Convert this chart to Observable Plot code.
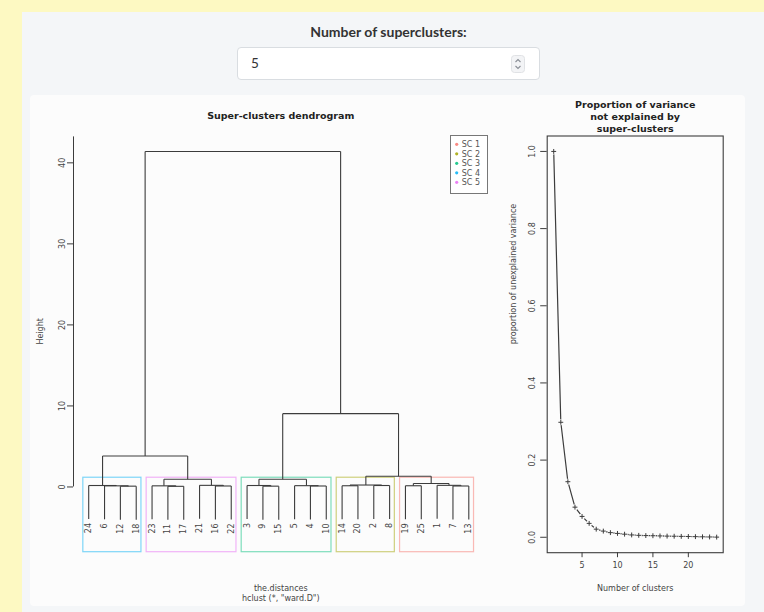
<!DOCTYPE html>
<html><head><meta charset="utf-8">
<script src="https://cdn.jsdelivr.net/npm/d3@7"></script>
<script src="https://cdn.jsdelivr.net/npm/@observablehq/plot@0.6"></script>
<style>
html,body{margin:0;padding:0;}
body{width:764px;height:612px;overflow:hidden;background:#fdf9c2;position:relative;font-family:"DejaVu Sans",sans-serif;}
#panel{position:absolute;left:22px;top:12px;width:742px;height:600px;background:#f4f6f8;}
#ctltitle{position:absolute;left:237px;top:23px;width:303px;text-align:center;font:bold 14px Lato,sans-serif;color:#333;line-height:18px;}
#input{position:absolute;left:237px;top:47px;width:301px;height:31px;background:#fff;border:1px solid #d9dde1;border-radius:4px;}
#input .val{position:absolute;left:13px;top:7px;font:13.5px Lato,sans-serif;color:#333;}
#input svg{position:absolute;left:272px;top:7px;}
#plotarea{position:absolute;left:30px;top:95px;width:715px;height:511px;background:#fcfcfc;border-radius:4px;}
#dendro{position:absolute;left:0;top:0;}
#scree{position:absolute;left:470px;top:0;}
#legend{position:absolute;left:420px;top:40px;width:38px;height:59px;}
</style>
</head><body>
<div id="panel"></div>
<div id="ctltitle">Number of superclusters:</div>
<div id="input"><span class="val">5</span>
<svg width="16" height="18" viewBox="0 0 16 18"><rect x="1.5" y="0.5" width="13" height="17" rx="3" fill="#f3f4f6" stroke="#e0e2e5"/><path d="M5.5 7 L8 4.5 L10.5 7" fill="none" stroke="#8a8f96" stroke-width="1.1"/><path d="M5.5 11 L8 13.5 L10.5 11" fill="none" stroke="#8a8f96" stroke-width="1.1"/></svg>
</div>
<div id="plotarea"><div id="dendro"></div><div id="scree"></div><div id="legend"></div></div>
<script>
// ---- dendrogram data (R-style merge matrix: negative = observation, positive = earlier merge row) ----
const mergeA = [-12, -6, -24, -11, -23, -16, -21, 5, -9, -3, -4, -5, 10, -14, -2, 14, -19, -7, -1, 17, 16, 3, 13, 22];
const mergeB = [-18, 1, 2, -17, 4, -22, 6, 7, -15, 9, -10, 11, 12, -20, -8, 15, -25, -13, 18, 19, 20, 8, 21, 23];
const mergeH = [0.10, 0.14, 0.18, 0.08, 0.14, 0.12, 0.20, 0.96, 0.10, 0.18, 0.12, 0.16, 0.95, 0.15, 0.18, 0.24, 0.15, 0.12, 0.20, 0.42, 1.32, 3.82, 9.05, 41.4];
const heightTicks = [0, 10, 20, 30, 40];
const kClusters = 5;
const scNames = ["SC 1", "SC 2", "SC 3", "SC 4", "SC 5"];
const scColors = ["#F8766D", "#A3A500", "#00BF7D", "#00B0F6", "#E76BF3"];

// ---- scree data ----
const nClusters = [1,2,3,4,5,6,7,8,9,10,11,12,13,14,15,16,17,18,19,20,21,22,23,24];
const propUnexplained = [1.0, 0.298, 0.144, 0.078, 0.054, 0.036, 0.021, 0.016, 0.012, 0.010, 0.008, 0.006, 0.005, 0.0044, 0.004, 0.0035, 0.003, 0.0027, 0.0023, 0.002, 0.0016, 0.0012, 0.0008, 0.0004];
const clusterTicks = [5, 10, 15, 20];
const propTicks = [0, 0.2, 0.4, 0.6, 0.8, 1.0];

// ---- build dendrogram geometry ----
const nLeaves = mergeH.length + 1;
const hang = 0.1 * (d3.max(mergeH) - d3.min(mergeH));
let counter = 0;
const leaves = [];
const segs = [];
const nodeInfo = {};
function visit(ref) {
  if (ref < 0) { counter += 1; const L = {label: -ref, pos: counter}; leaves.push(L); return {x: counter, leaf: L}; }
  if (nodeInfo[ref]) return nodeInfo[ref];
  const i = ref - 1, h = mergeH[i];
  const a = visit(mergeA[i]), b = visit(mergeB[i]);
  for (const c of [a, b]) {
    const yb = c.leaf ? h - hang : c.h;
    if (c.leaf) c.leaf.y = yb;
    segs.push({x1: c.x, y1: yb, x2: c.x, y2: h});
  }
  segs.push({x1: a.x, y1: h, x2: b.x, y2: h});
  const members = [].concat(a.leaf ? [a.leaf] : a.members, b.leaf ? [b.leaf] : b.members);
  const info = {x: (a.x + b.x) / 2, h, members};
  nodeInfo[ref] = info;
  return info;
}
visit(mergeH.length);

// clusters for k
const above = new Set(d3.range(nLeaves - kClusters + 1, nLeaves));
const clusterRefs = [];
for (const r of above) for (const c of [mergeA[r-1], mergeB[r-1]]) if (!above.has(c)) clusterRefs.push(c);
const sortedH = mergeH.slice().sort((p, q) => q - p);
const rectTop = (sortedH[kClusters - 2] + sortedH[kClusters - 1]) / 2;
const clusters = clusterRefs.map(r => {
  const mem = r < 0 ? [leaves.find(l => l.label === -r)] : nodeInfo[r].members;
  return {mem, minLabel: d3.min(mem, m => m.label), x1: d3.min(mem, m => m.pos) - 0.34, x2: d3.max(mem, m => m.pos) + 0.33};
}).sort((p, q) => p.minLabel - q.minLabel);
clusters.forEach((c, i) => c.color = scColors[i]);

const xDomD = [1 - 0.04 * (nLeaves - 1), nLeaves + 0.04 * (nLeaves - 1)];
const yDomD = [-8.05, 43.2];

const baseStyle = {fontFamily: "DejaVu Sans, sans-serif", fontSize: "8px", background: "transparent", color: "#333", overflow: "visible"};
const ink = "#3c3c3c";

const dendro = Plot.plot({
  width: 470, height: 510,
  marginLeft: 43, marginRight: 16.5, marginTop: 41.4, marginBottom: 53.3,
  x: {domain: xDomD, axis: null},
  y: {domain: yDomD, axis: null},
  style: baseStyle,
  marks: [
    Plot.rect(clusters, {x1: "x1", x2: "x2", y1: yDomD[0], y2: rectTop, fill: "none", stroke: "color", strokeOpacity: 0.5, strokeWidth: 1.2}),
    Plot.link(segs, {x1: "x1", y1: "y1", x2: "x2", y2: "y2", stroke: ink, strokeWidth: 1.1}),
    Plot.text(leaves, {x: "pos", y: "y", text: d => String(d.label), rotate: -90, textAnchor: "end", dy: 4, fontSize: 8, fill: "#444"}),
    Plot.ruleX([xDomD[0]], {y1: heightTicks[0], y2: yDomD[1], stroke: ink}),
    Plot.axisY({ticks: heightTicks, tickSize: 6, tickRotate: -90, tickPadding: 3, label: null, fill: "#444", stroke: ink}),
    Plot.text(["Super-clusters dendrogram"], {text: d => d, frameAnchor: "top", dy: -24.5, dx: 2, fontWeight: "bold", fontSize: 9.5, fill: "#222"}),
    Plot.text(["Height"], {text: d => d, frameAnchor: "left", dx: -33, rotate: -90, fontSize: 8, fill: "#444"}),
    Plot.text(["the.distances"], {text: d => d, frameAnchor: "bottom", dy: 39, dx: 2, fontSize: 8, fill: "#444"}),
    Plot.text(['hclust (*, "ward.D")'], {text: d => d, frameAnchor: "bottom", dy: 49, dx: 2, fontSize: 8, fill: "#444"})
  ]
});
document.getElementById("dendro").append(dendro);

const screeData = nClusters.map((k, i) => ({k, p: propUnexplained[i]}));
const scree = Plot.plot({
  width: 245, height: 510,
  marginLeft: 46.7, marginRight: 22.3, marginTop: 40.5, marginBottom: 52.8,
  x: {domain: [1 - 0.04 * 23, 24 + 0.04 * 23]},
  y: {domain: [-0.04, 1.04]},
  style: baseStyle,
  marks: [
    Plot.frame({stroke: ink, strokeWidth: 1.1}),
    Plot.axisY({ticks: propTicks, tickFormat: d3.format(".1f"), tickSize: 6.5, tickRotate: -90, tickPadding: 6, label: null, fill: "#444", stroke: ink}),
    Plot.axisX({ticks: clusterTicks, tickSize: 5, tickPadding: 5, label: null, fill: "#444", stroke: ink}),
    Plot.line(screeData, {x: "k", y: "p", stroke: ink, strokeWidth: 1.2}),
    Plot.dot(screeData, {x: "k", y: "p", r: 3.0, fill: "#fcfcfc"}),
    Plot.dot(screeData, {x: "k", y: "p", symbol: "plus", r: 1.7, stroke: ink, strokeWidth: 1}),
    Plot.text(["Proportion of variance"], {text: d => d, frameAnchor: "top", dy: -34.5, fontWeight: "bold", fontSize: 9.5, fill: "#222"}),
    Plot.text(["not explained by"], {text: d => d, frameAnchor: "top", dy: -22.6, fontWeight: "bold", fontSize: 9.5, fill: "#222"}),
    Plot.text(["super-clusters"], {text: d => d, frameAnchor: "top", dy: -10.8, fontWeight: "bold", fontSize: 9.5, fill: "#222"}),
    Plot.text(["Number of clusters"], {text: d => d, frameAnchor: "bottom", dy: 38.5, fontSize: 8, fill: "#444"}),
    Plot.text(["proportion of unexplained variance"], {text: d => d, frameAnchor: "left", dx: -33.4, rotate: -90, fontSize: 8, fill: "#444"})
  ]
});
document.getElementById("scree").append(scree);

// legend
const lg = d3.select("#legend").append("svg").attr("width", 38).attr("height", 59).style("width", "38px").style("height", "59px").style("overflow", "visible");
lg.append("rect").attr("x", 0.5).attr("y", 0.5).attr("width", 37).attr("height", 58).attr("fill", "#fff").attr("stroke", "#777");
scNames.forEach((n, i) => {
  const y = 9.3 + i * 9.5;
  lg.append("circle").attr("cx", 6.7).attr("cy", y).attr("r", 1.6).attr("fill", scColors[i]).attr("opacity", 0.85);
  lg.append("text").attr("x", 11.7).attr("y", y).attr("dy", "0.35em").attr("font-size", 8).attr("font-family", "DejaVu Sans").attr("fill", "#555").text(n);
});
</script>
</body></html>
